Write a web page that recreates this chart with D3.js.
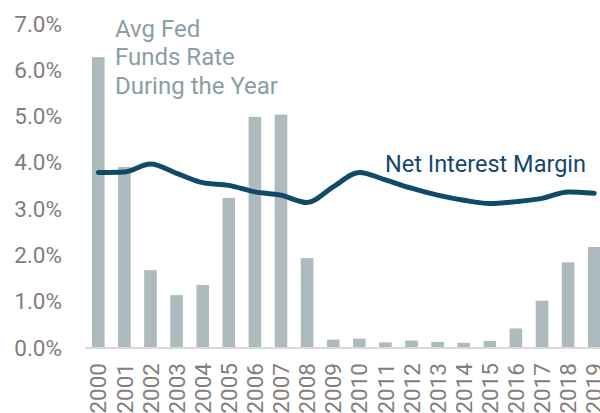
<!DOCTYPE html>
<html><head><meta charset="utf-8">
<script src="https://cdn.jsdelivr.net/npm/d3@7"></script>
<style>html,body{margin:0;padding:0;background:#fff;overflow:hidden}</style>
</head><body>
<svg id="c" width="600" height="413"></svg>
<script>
const years = ["2000","2001","2002","2003","2004","2005","2006","2007","2008","2009","2010","2011","2012","2013","2014","2015","2016","2017","2018","2019"];
const fedFunds = [6.26,3.89,1.66,1.12,1.34,3.22,4.97,5.02,1.92,0.16,0.18,0.10,0.14,0.11,0.09,0.13,0.40,1.00,1.83,2.16];
const nim = [3.77,3.78,3.95,3.75,3.55,3.49,3.35,3.28,3.12,3.46,3.77,3.61,3.43,3.28,3.17,3.10,3.14,3.21,3.35,3.32];
const yTicks = [0,1,2,3,4,5,6,7];

const svg = d3.select("#c");
const font = "Roboto, 'Noto Sans', sans-serif";
const x = d3.scaleBand().domain(years).range([85, 607.5]).paddingInner(0.517).paddingOuter(0.268);
const y = d3.scaleLinear().domain([0, 7]).range([347, 22.9]);

// y axis labels
const yAxis = d3.axisLeft(y).tickValues(yTicks).tickSize(0).tickPadding(0).tickFormat(d => d.toFixed(1) + "%");
const gy = svg.append("g").attr("transform", "translate(62,0)").call(yAxis);
gy.select(".domain").remove();
gy.selectAll("text").attr("fill", "#837d7c").style("font-family", font).style("font-size", "22.5px").attr("dy", "0.36em");

// bars
svg.append("g").selectAll("rect").data(years).join("rect")
  .attr("x", d => x(d)).attr("width", x.bandwidth())
  .attr("y", (d, i) => y(fedFunds[i])).attr("height", (d, i) => y(0) - y(fedFunds[i]))
  .attr("fill", "#adbabe");

// baseline
svg.append("line").attr("x1", 85).attr("x2", 600).attr("y1", y(0) + 1).attr("y2", y(0) + 1)
  .attr("stroke", "#d9d9d9").attr("stroke-width", 2);

// x axis labels
const xAxis = d3.axisBottom(x).tickSize(0).tickPadding(0);
const gx = svg.append("g").attr("transform", "translate(0,363)").call(xAxis);
gx.select(".domain").remove();
gx.selectAll("text").attr("fill", "#837d7c").style("font-family", font).style("font-size", "22.5px")
  .attr("text-anchor", "end").attr("transform", "rotate(-90)").attr("x", 0).attr("y", 0).attr("dy", "0.36em");

// NIM line
const line = d3.line().x((d, i) => x(years[i]) + x.bandwidth() / 2).y(d => y(d)).curve(d3.curveMonotoneX);
svg.append("path").datum(nim).attr("d", line).attr("fill", "none")
  .attr("stroke", "#114a69").attr("stroke-width", 5).attr("stroke-linecap", "round");

// annotations
const ann = svg.append("text").attr("fill", "#8b9ea3").style("font-family", font).style("font-size", "24px");
["Avg Fed", "Funds Rate", "During the Year"].forEach((t, i) => {
  ann.append("tspan").attr("x", 115).attr("y", 37 + i * 28.3).text(t);
});
svg.append("text").attr("x", 385).attr("y", 172).attr("fill", "#13496a")
  .style("font-family", font).style("font-size", "23.5px").text("Net Interest Margin");
</script>
</body></html>
